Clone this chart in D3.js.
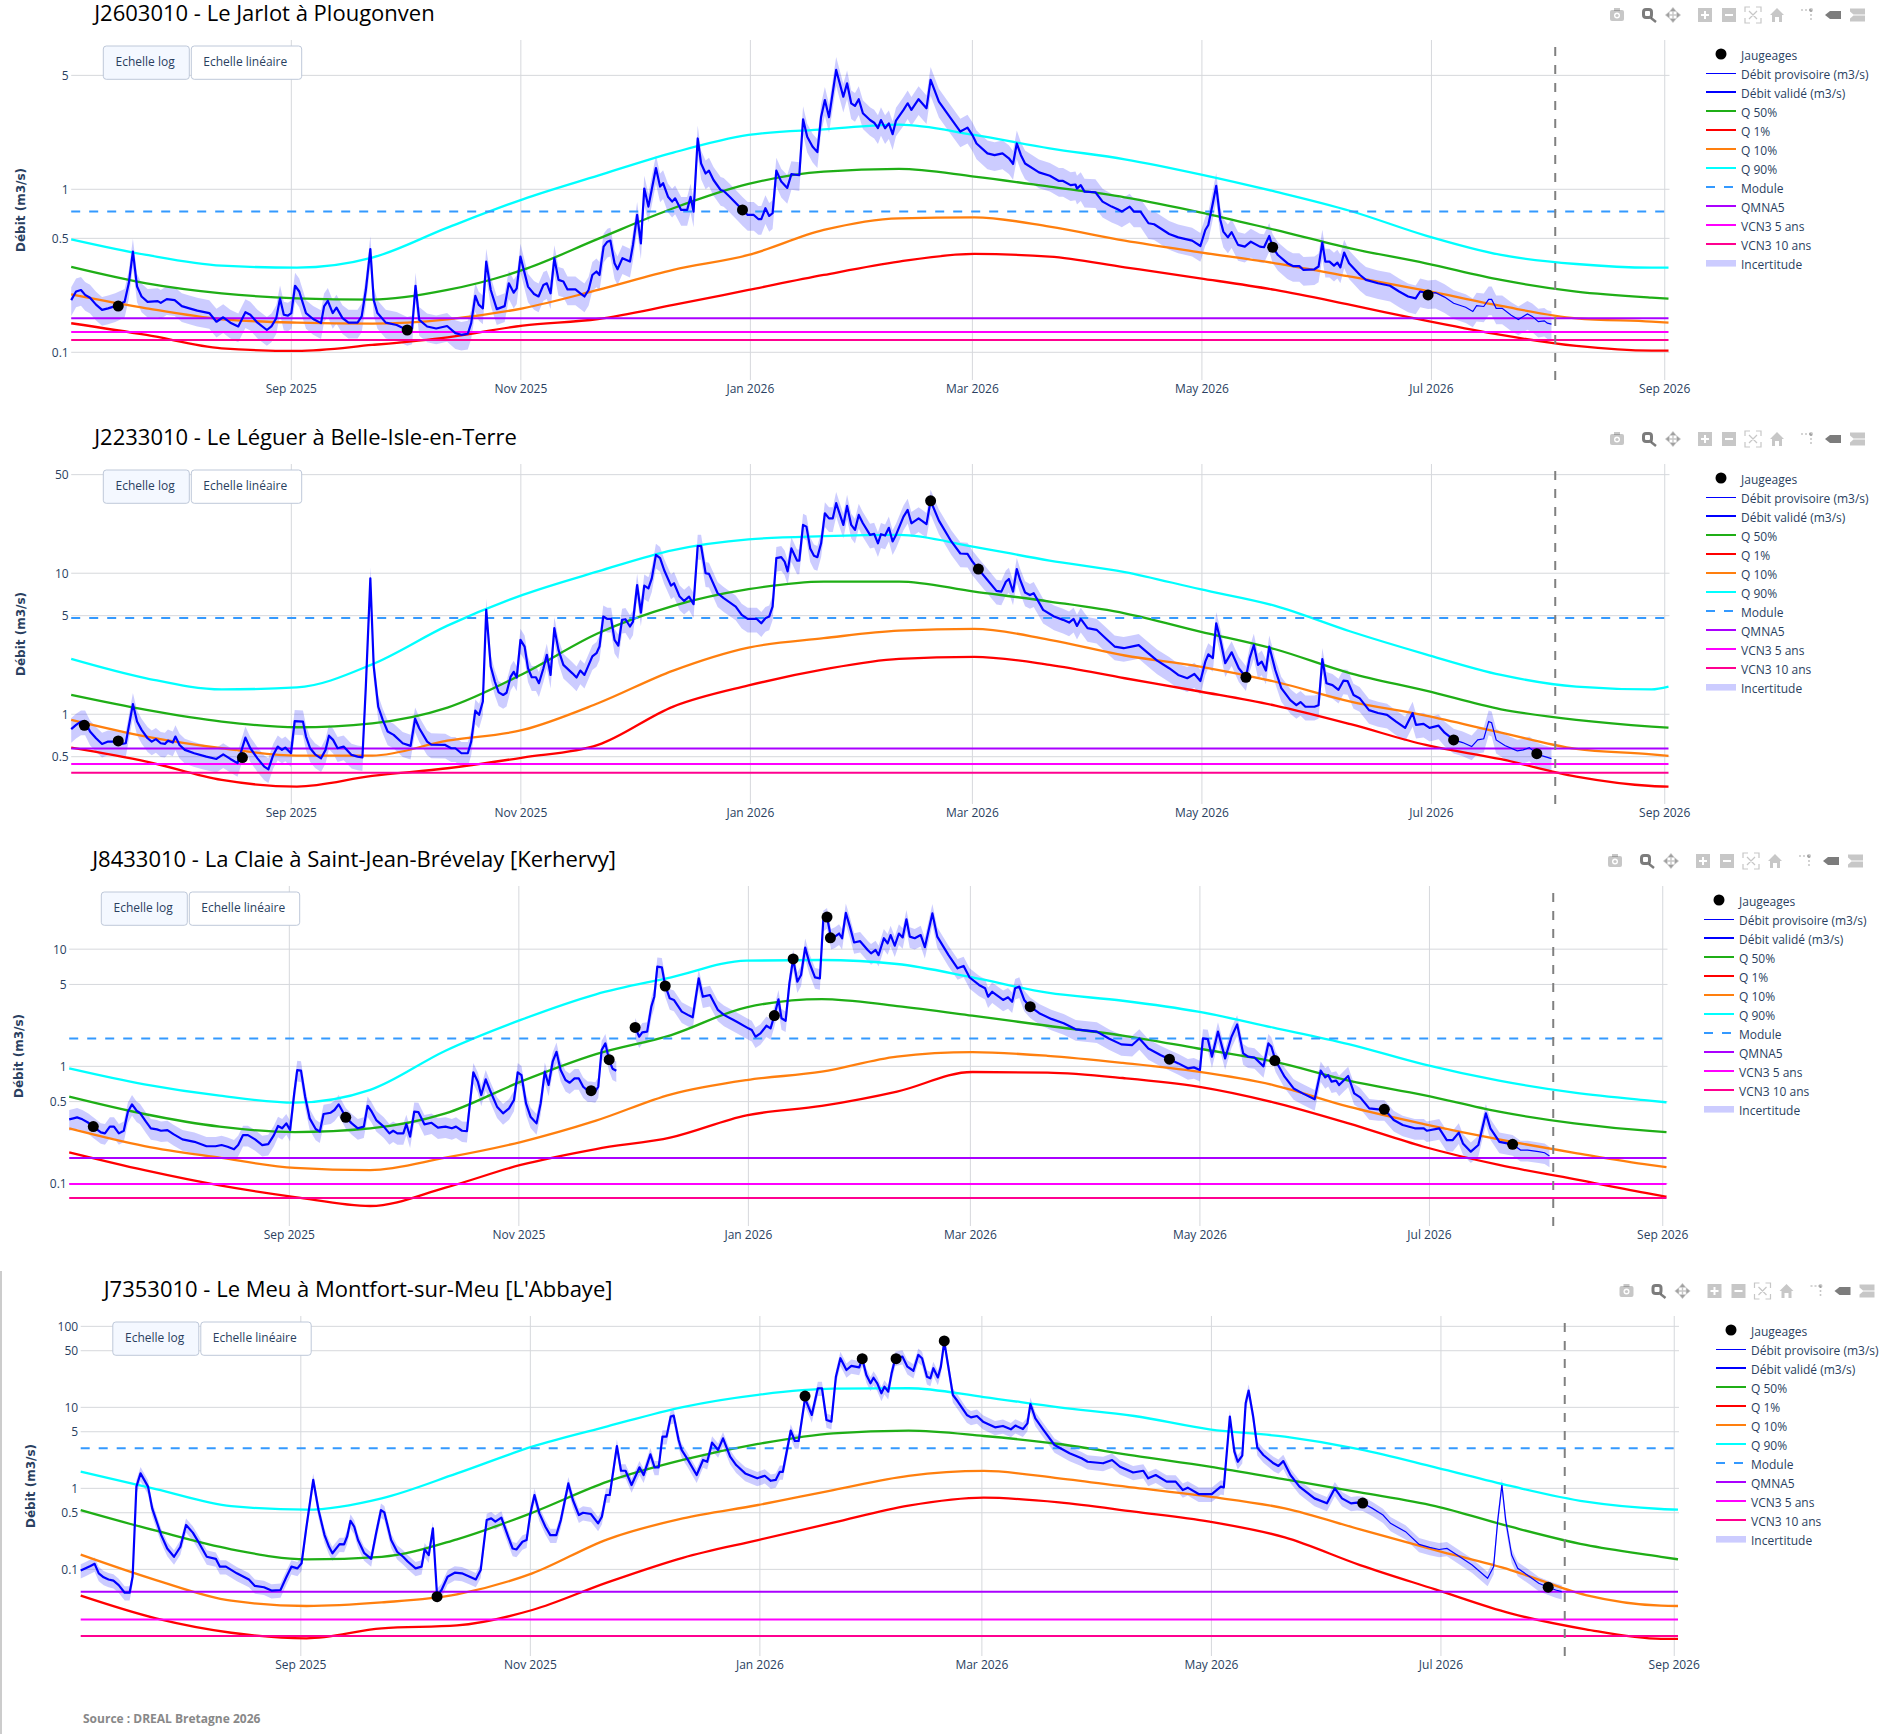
<!DOCTYPE html>
<html><head><meta charset="utf-8">
<script src="https://cdn.jsdelivr.net/npm/d3@7"></script>
<style>html,body{margin:0;padding:0;background:#fff}svg{display:block}text{font-family:"Open Sans",sans-serif}</style>
</head><body>
<script>
// Day offsets are counted from 2025-07-04 12:00 UTC.
const startDate = Date.UTC(2025, 6, 4, 12);
const endDay = 424.5;
const todayDay = 394.4;
const xTickDates = ["2025-09-01","2025-11-01","2026-01-01","2026-03-01","2026-05-01","2026-07-01","2026-09-01"];
const xTickLabels = ["Sep 2025","Nov 2025","Jan 2026","Mar 2026","May 2026","Jul 2026","Sep 2026"];
const legendNames = ["Jaugeages","Débit provisoire (m3/s)","Débit validé (m3/s)","Q 50%","Q 1%","Q 10%","Q 90%","Module","QMNA5","VCN3 5 ans","VCN3 10 ans","Incertitude"];
const buttonLabels = ["Echelle log","Echelle linéaire"];
const sourceText = "Source : DREAL Bretagne 2026";
const uncertaintyLow = 0.8, uncertaintyHigh = 1.2;
const qDays = [0,20,40,60,80,100,120,140,160,180,200,220,240,260,280,300,320,340,360,380,400,420,424.5];

// --- J2603010
const title1 = "J2603010 - Le Jarlot à Plougonven";
const yTicks1 = [0.1,0.5,1,5];
const refs1 = {module:0.73, qmna5:0.1617, vcn5:0.1333, vcn10:0.119};
const q90_1 = [.493,.3955,.340,.3307,.381,.582,.868,1.213,1.678,2.154,2.334,2.49,2.154,1.784,1.528,1.236,.968,.736,.52,.3955,.348,.3307,.3307];
const q50_1 = [.334,.265,.23,.2144,.2104,.2412,.32,.496,.7646,1.078,1.283,1.333,1.196,1.038,.893,.7227,.563,.4347,.3516,.2778,.2356,.2165,.2135];
const q10_1 = [.2269,.1862,.1594,.152,.15,.1594,.1862,.2412,.32,.3955,.563,.664,.673,.59,.484,.4107,.3516,.2912,.239,.1924,.1616,.1542,.152];
const q1_1 = [.1507,.1277,.1058,.102,.1109,.1236,.1457,.16,.1952,.2412,.298,.36,.401,.3863,.332,.2844,.2412,.1952,.1564,.1277,.1094,.1024,.1024];
const gaugings1 = [[12.5,.192],[89.3,.137],[178.4,.747],[319.3,.441],[360.6,.225]];
const validEnd1 = 360.6;
const flow1 = [[0,.209],[1.3,.236],[2.6,.241],[3.7,.225],[5,.216],[6.6,.196],[8.2,.182],[9.8,.186],[11.7,.192],[14.2,.204],[15.3,.265],[16.4,.415],[17.5,.253],[18.7,.22],[20.3,.204],[23,.206],[23.8,.201],[25.4,.212],[27.5,.209],[29.4,.192],[31.4,.186],[33.5,.18],[36.7,.174],[38.6,.154],[40.4,.164],[42.3,.152],[44.4,.144],[46.3,.176],[47.6,.17],[49.5,.152],[52,.137],[53.2,.144],[54.5,.162],[55.5,.214],[56.5,.17],[57.6,.168],[58.5,.174],[59.5,.256],[60.6,.236],[62.4,.174],[64.3,.16],[66.4,.151],[67.2,.191],[68.2,.207],[69.5,.174],[70.5,.188],[72.1,.162],[73.7,.152],[76.1,.152],[77.2,.166],[78.3,.241],[79.5,.429],[80.4,.209],[81.4,.174],[83.6,.152],[86.5,.147],[89.3,.137],[90.6,.14],[91.5,.256],[92.5,.158],[94.6,.144],[97,.14],[99.9,.145],[102.1,.131],[103.7,.128],[105.4,.13],[106.3,.151],[107.4,.222],[108.3,.196],[109.4,.186],[110.3,.36],[111.5,.241],[113.1,.184],[115.2,.192],[116.3,.265],[117.6,.232],[118.4,.247],[119.4,.386],[120.5,.306],[121.4,.253],[123,.228],[124.2,.22],[125.5,.259],[126.4,.265],[127.4,.23],[128.4,.378],[129.5,.278],[130.8,.272],[131.9,.243],[134,.243],[135.3,.23],[136.4,.22],[137.5,.241],[138.5,.298],[139.6,.313],[140.4,.298],[141.5,.445],[142.5,.477],[143.3,.484],[144.4,.352],[145.2,.323],[146.5,.378],[148.5,.36],[149.3,.456],[150.4,.696],[151.4,.466],[152.3,1.01],[153.4,.783],[155.4,1.35],[156.5,1.04],[157.3,1.09],[158.6,.9],[159.7,.84],[160.5,.88],[162.1,.747],[163.7,.747],[164.6,.9],[165.4,.73],[166.5,2.05],[167.4,1.44],[168.6,1.25],[169.5,1.3],[170.7,1.14],[172.6,.99],[173.4,.976],[175,.9],[177.4,.79],[178.4,.747],[179.8,.696],[181.4,.696],[182.6,.657],[183.4,.657],[184.5,.765],[185.5,.686],[186.4,.713],[187.4,1.3],[188.7,1.115],[190.3,1.02],[191.4,1.24],[193.5,1.22],[194.5,2.69],[195.6,2.1],[197,1.83],[198.3,1.69],[199.3,2.79],[200.3,3.53],[201.4,2.77],[203.3,5.4],[205.2,3.7],[206.2,4.47],[207.3,3.37],[208.3,3.25],[209.3,3.57],[210.4,2.93],[212.3,2.66],[213.4,2.56],[214.4,2.37],[215.2,2.66],[216.3,2.37],[217.3,2.54],[218.3,2.18],[219.2,2.64],[221.2,3.07],[222.3,3.37],[223.3,3.07],[225.2,3.57],[227.3,3.14],[228.4,4.69],[230.6,3.45],[233.1,2.86],[236.3,2.26],[238.2,2.39],[239.5,2.15],[240.6,1.91],[243.5,1.66],[245.4,1.62],[247.5,1.66],[249.2,1.55],[250.3,1.43],[251.3,1.91],[252.4,1.62],[253.5,1.44],[257.2,1.27],[260.1,1.21],[262.5,1.125],[263.6,1.125],[265.6,1.06],[266.9,1.07],[267.3,1.01],[268.3,1.06],[269.3,.967],[272.2,.959],[274.1,.84],[276.5,.783],[278.1,.754],[279.2,.73],[281.3,.783],[282.4,.73],[284.2,.73],[286.3,.619],[287.8,.61],[291.8,.532],[294.2,.507],[297.9,.484],[300.1,.449],[301.4,.563],[302.2,.604],[303.4,.82],[304.3,1.05],[305.4,.648],[306.2,.55],[307.4,.507],[308.4,.546],[310.1,.456],[311.9,.445],[313.5,.477],[315.9,.445],[317,.441],[318.4,.517],[319.3,.441],[320.7,.395],[323.2,.352],[324.7,.338],[326.4,.338],[327.5,.32],[330.4,.323],[331.5,.336],[332.5,.471],[333.3,.36],[334.4,.36],[335.6,.34],[336.5,.355],[337.3,.332],[338.3,.409],[339.6,.352],[342.5,.298],[344.1,.278],[347.3,.265],[350.5,.256],[352.9,.236],[355.3,.22],[357.3,.214],[358.5,.236],[360.6,.23],[362.6,.232],[365,.218],[367.4,.2],[370.6,.189],[372.5,.178],[373.5,.193],[375.4,.191],[376.7,.211],[377.5,.211],[378.7,.186],[380.3,.186],[382.7,.169],[384.6,.159],[385.9,.166],[387,.172],[388.3,.166],[389.9,.154],[391.5,.156],[392.3,.151],[393.4,.149]];

// --- J2233010
const title2 = "J2233010 - Le Léguer à Belle-Isle-en-Terre";
const yTicks2 = [0.5,1,5,10,50];
const refs2 = {module:4.82, qmna5:0.571, vcn5:0.444, vcn10:0.384};
const q90_2 = [2.47,1.8,1.5,1.55,2.26,4.25,7.02,10.3,14.6,17.4,18.3,18.7,15.4,12.3,10.2,7.7,5.87,3.86,2.66,1.9,1.57,1.5,1.57];
const q50_2 = [1.371,1.073,.887,.809,.863,1.115,1.93,3.75,5.87,7.7,8.73,8.73,7.41,6.3,5.2,3.86,2.89,1.95,1.47,1.085,.912,.818,.804];
const q10_2 = [.912,.694,.574,.509,.509,.65,.774,1.197,2.04,2.97,3.46,3.92,4.03,3.37,2.61,2.18,1.7,1.23,.978,.741,.568,.52,.506];
const q1_2 = [.58,.462,.342,.307,.365,.414,.493,.606,1.133,1.6,2.08,2.47,2.55,2.24,1.8,1.45,1.152,.85,.606,.48,.361,.31,.307];
const gaugings2 = [[3.5,.835],[12.5,.647],[45.5,.493],[228.4,32.6],[241.1,10.7],[312.2,1.83],[367.4,.658],[389.5,.525]];
const validEnd2 = 367.4;
const flow2 = [[0,.784],[1.3,.84],[2.6,.887],[3.7,.887],[5,.754],[6.6,.676],[8.2,.616],[9.8,.64],[11.7,.64],[13.4,.616],[14.5,.623],[15.3,.818],[16.4,1.18],[17.5,.887],[18.7,.775],[20.3,.676],[21.4,.64],[22.5,.666],[23.8,.623],[24.9,.616],[25.7,.65],[27,.63],[27.7,.695],[28.8,.606],[30.2,.559],[32.7,.529],[35.9,.501],[38.6,.482],[40.4,.52],[42.3,.482],[44.2,.45],[46.3,.683],[47.6,.574],[49.5,.487],[51.3,.425],[52.4,.407],[53.7,.515],[54.9,.59],[56,.559],[56.9,.58],[58.4,.529],[59.4,.895],[61.6,.887],[62.4,.695],[63.5,.574],[64.8,.52],[66.4,.487],[67.6,.559],[68.5,.705],[69.6,.658],[70.8,.574],[72.4,.59],[74.5,.515],[76.1,.501],[77.4,.495],[78.3,1.57],[79.5,9.2],[80.4,2.18],[81.6,1.13],[82.8,.912],[84.1,.754],[85.7,.714],[88.1,.623],[90.2,.597],[91.4,.93],[92.5,.796],[94.6,.64],[95.7,.61],[99.4,.606],[101,.574],[102.1,.574],[103.7,.529],[105.4,.529],[106.3,.64],[107.4,1.06],[108.4,.99],[109.4,1.23],[110.3,5.5],[111.5,2.18],[112.6,1.7],[113.6,1.43],[114.8,1.37],[115.7,1.42],[116.8,1.85],[117.6,2],[118.4,1.82],[119.4,3.37],[120.5,3.02],[121.4,2.12],[122.4,1.83],[123.5,1.83],[124.3,1.66],[125.5,2.12],[126.4,2.64],[127.4,1.9],[128.4,4.08],[129.5,2.86],[130.8,2.24],[133.2,1.95],[134.3,1.82],[135.3,2.04],[136.4,1.9],[138.5,2.57],[139.6,2.71],[140.4,3.02],[141.4,4.93],[142.5,4.74],[143.5,4.74],[144.4,3.37],[145.4,3.07],[146.4,4.67],[147.3,4.72],[148.5,4.19],[149.3,4.54],[150.4,8.25],[151.4,5.26],[152.3,8.16],[153.4,7.8],[154.3,9.2],[155.4,13.5],[156.5,12.8],[157.6,10.5],[159.4,8.16],[160.2,8.49],[161.7,6.83],[162.9,6.36],[164.2,6.83],[165.4,6.03],[166.5,15.6],[167.4,15.6],[168.6,10],[169.5,9.9],[171.8,7.21],[173.4,6.65],[176.6,5.8],[178.2,5.07],[179.8,4.74],[182.2,4.74],[183.4,4.42],[184.5,4.8],[185.5,4.93],[186.4,5.8],[187.4,12.8],[188.7,13],[189.6,12.1],[190.4,10.3],[191.4,15],[192.9,12.3],[193.5,12.3],[194.5,22],[195.4,21.4],[196.4,15],[197.4,13.3],[198.3,13],[199.3,16.3],[200.3,26.6],[201.4,24.5],[202.4,24.5],[203.3,31.4],[205.2,22],[206.2,30],[207.3,22],[208.3,20.3],[209.3,25.9],[210.4,22.6],[212.3,18.7],[213.4,19],[214.4,16.3],[215.2,18.9],[216.3,18.5],[217.3,21],[218.3,16.8],[219.2,18.7],[221.2,25.2],[222.3,28.1],[223.3,22.6],[225.2,24.5],[227.3,22.3],[228.4,32.6],[230.6,23.6],[233.9,16.8],[236.3,13.8],[238.2,13.7],[239.5,12.1],[241.1,10.7],[243.5,8.96],[245.9,7.5],[247.2,7.4],[248.4,8.7],[249.2,9.1],[250.3,7.4],[251.3,10.7],[252.2,8.96],[253.5,7.3],[254.8,7],[255.8,7.21],[258.3,5.5],[261.2,4.93],[263.6,4.67],[265.2,4.47],[266.4,4.74],[267.3,4.23],[268.3,4.74],[270.1,4.08],[272.5,3.97],[274.9,3.46],[277.3,3.02],[279.7,2.94],[281.8,3.02],[283.7,3.09],[286.2,2.71],[288.6,2.4],[291.8,2.12],[294.2,1.9],[296.6,1.8],[298.5,1.93],[300.1,1.72],[301.4,2.36],[302.2,2.66],[303.4,2.5],[304.3,4.42],[305.4,3.37],[306.7,2.3],[307.5,2.5],[308.4,2.75],[310.3,2.12],[312.2,1.83],[313.2,2.5],[314.3,3.1],[315.4,2.24],[316.4,2.36],[317.5,2.04],[318.4,3.02],[320,2.06],[321.6,1.53],[324,1.26],[325.6,1.16],[326.7,1.22],[328,1.13],[330.4,1.13],[331.5,1.16],[332.5,2.46],[333.6,1.66],[335.2,1.61],[336.8,1.49],[338.1,1.73],[339.2,1.72],[340.8,1.37],[342.4,1.3],[344.9,1.07],[347.3,1.02],[349.7,.99],[352.1,.887],[354.5,.8],[356.5,1.02],[357.4,.84],[359.4,.855],[361,.8],[363.4,.83],[365,.74],[367.4,.658],[369.8,.63],[372.2,.59],[373.8,.658],[375.4,.67],[376.7,.887],[377.5,.87],[378.7,.658],[381,.6],[384.3,.55],[385.9,.559],[387.5,.58],[389.5,.525],[391,.507],[392.3,.495],[393.4,.485]];

// --- J8433010
const title3 = "J8433010 - La Claie à Saint-Jean-Brévelay [Kerhervy]";
const yTicks3 = [0.1,0.5,1,5,10];
const refs3 = {module:1.73, qmna5:0.165, vcn5:0.099, vcn10:0.0752};
const q90_3 = [.961,.702,.562,.49,.63,1.36,2.49,4.12,5.75,7.98,8.08,7.47,5.75,4.25,3.63,2.93,2.14,1.55,1.04,.755,.596,.509,.493];
const q50_3 = [.551,.392,.306,.275,.296,.397,.74,1.27,1.85,3.19,3.75,3.27,2.71,2.22,1.83,1.42,1.1,.755,.569,.41,.326,.281,.275];
const q10_3 = [.296,.209,.166,.136,.13,.166,.226,.344,.577,.764,.9,1.21,1.32,1.23,1.07,.9,.693,.453,.322,.238,.183,.144,.138];
const q1_3 = [.1845,.13,.0964,.0767,.0643,.0921,.144,.197,.248,.382,.459,.608,.895,.883,.795,.671,.493,.326,.206,.144,.109,.0819,.0772];
const gaugings3 = [[6.4,.306],[73.5,.367],[138.7,.62],[143.5,1.14],[150.4,2.15],[158.4,4.85],[187.4,2.71],[192.4,8.25],[201.4,18.8],[202.3,12.5],[255.4,3.23],[292.4,1.15],[320.4,1.12],[349.5,.43],[383.6,.216]];
const validEnd3 = 383.6;
const flow3 = [[0,.353],[1.1,.36],[2.1,.367],[3.5,.353],[5.1,.33],[6.4,.306],[8.4,.273],[9.5,.268],[10.8,.306],[11.9,.306],[13.2,.268],[14.5,.282],[15.6,.41],[16.7,.474],[17.9,.418],[18.8,.4],[20.4,.337],[21.7,.296],[23.3,.29],[24.4,.282],[26.1,.286],[27.7,.264],[30.1,.238],[33.3,.227],[36.5,.208],[38.9,.208],[40.5,.213],[42.1,.206],[43.8,.196],[44.9,.213],[46.2,.259],[47.5,.259],[49.4,.238],[51.3,.213],[52.9,.217],[54.4,.259],[55.5,.31],[56.6,.296],[57.7,.326],[58.7,.286],[59.8,.588],[60.6,.93],[61.6,.92],[62.7,.551],[63.9,.36],[65.5,.292],[66.6,.277],[67.6,.392],[69.5,.402],[70.5,.424],[71.6,.474],[72.7,.41],[73.5,.367],[75.1,.326],[76.7,.296],[78.3,.306],[79.3,.461],[80.4,.41],[81.6,.348],[83.6,.306],[85.1,.268],[86.1,.282],[87.2,.268],[88.8,.268],[89.6,.322],[90.6,.251],[91.7,.41],[92.8,.407],[94.4,.32],[96.3,.33],[98,.3],[100,.306],[101.7,.296],[102.8,.306],[104.4,.282],[105.7,.28],[106.5,.483],[107.4,.889],[108.6,.74],[109.5,.57],[110.7,.774],[111.8,.628],[113.7,.453],[115.3,.397],[116.9,.438],[118.2,.516],[119.2,.889],[120.2,.84],[121.4,.483],[122.6,.372],[124.2,.326],[125.3,.483],[126.4,.9],[127.4,.693],[128.5,1.1],[129.5,1.33],[130.6,.93],[131.9,.764],[133,.725],[134.3,.79],[135.4,.79],[136.6,.67],[137.8,.62],[138.7,.62],[139.8,.61],[140.6,.67],[141.5,1.38],[142.5,1.57],[143.5,1.13],[144.4,.955],[145.4,.918],[146,null],[150.4,2.15],[151.5,1.79],[152.3,1.95],[153.6,1.98],[154.7,3.23],[155.5,3.93],[156.3,7.09],[157.5,7],[158.4,4.88],[159.6,3.81],[160.7,3.69],[162.8,2.93],[164.4,2.75],[165.7,2.62],[167.3,5.64],[168.4,3.93],[170.3,4.06],[172.4,3.03],[174,2.75],[177.3,2.41],[180.5,2.11],[181.4,2.04],[182.4,1.79],[183.7,1.91],[185.3,2.22],[186.4,2.11],[187.4,2.71],[188.5,3.73],[189.3,2.57],[190.4,2.45],[191.4,5.11],[192.4,8.25],[193.5,5.28],[194.5,6.02],[195.6,10.3],[196.7,7.66],[198.2,5.75],[199.5,5.64],[200.4,17.7],[201.4,18.7],[202.5,12.4],[203.5,12.8],[204.6,13.6],[205.4,12.4],[206.4,20.4],[207.5,15.5],[208.6,11.4],[210.2,11.7],[212.2,9.84],[213.1,9.22],[214.3,9.84],[215.1,8.9],[216.5,12.4],[217.5,11.2],[218.3,13.2],[219.4,10.7],[220.5,13.6],[221.5,12.6],[222.5,18],[223.4,12.8],[224.7,12.4],[226.3,13.2],[227.4,10.4],[229.4,20.2],[230.7,12.8],[233.7,8.9],[236.1,6.86],[237.7,7.19],[239.3,5.73],[241.8,4.95],[243.4,4.64],[244.2,3.93],[245.3,4.33],[248.2,3.69],[249.5,3.88],[250.6,3.56],[251.4,4.64],[252.5,4.79],[253.8,3.69],[255.4,3.23],[257.8,2.84],[261,2.54],[264.3,2.33],[267.5,2.07],[273.1,1.98],[276.3,1.73],[279.6,1.54],[282.5,1.52],[284.4,1.73],[286.8,1.42],[290,1.25],[292.4,1.15],[294.8,1.06],[297.3,.962],[298.9,.98],[300.5,.93],[301.3,1.73],[302.6,1.71],[303.7,1.21],[305.3,1.98],[307.2,1.17],[308.9,1.79],[310.4,2.28],[312,1.29],[313.3,1.21],[315,1.19],[317.4,1],[318.7,1.57],[319.5,1.47],[320.6,1.12],[323,.816],[325.4,.648],[327.8,.588],[331,.523],[332.6,.918],[333.8,.806],[334.6,.84],[335.5,.74],[336.7,.755],[337.5,.693],[339.9,.827],[341.5,.588],[343.1,.544],[345.5,.438],[347.9,.43],[349.5,.43],[352,.348],[354.4,.316],[357.6,.296],[360,.296],[360.8,.282],[364.1,.296],[366.1,.235],[367.7,.235],[369.3,.272],[370.4,.22],[372.5,.187],[374.5,.213],[376.5,.397],[377.7,.296],[380.1,.227],[382.2,.22],[383.6,.216],[385.7,.193],[387.6,.193],[390.5,.187],[392.1,.183],[393.4,.172]];

// --- J7353010
const title4 = "J7353010 - Le Meu à Montfort-sur-Meu [L'Abbaye]";
const yTicks4 = [0.1,0.5,1,5,10,50,100];
const refs4 = {module:3.12, qmna5:0.053, vcn5:0.0241, vcn10:0.015};
const q90_4 = [1.61,.981,.605,.545,.753,1.53,3.27,5.83,10.1,14.3,17,17.2,13.4,10,7.82,5.35,4.34,3.03,1.82,1.07,.685,.556,.545];
const q50_4 = [.54,.3,.177,.133,.143,.235,.5,1.21,2.24,3.53,4.78,5.15,4.43,3.53,2.53,1.85,1.29,.893,.605,.336,.2,.143,.133];
const q10_4 = [.152,.0738,.041,.0353,.0391,.0491,.0893,.235,.426,.623,.954,1.43,1.64,1.33,1.02,.789,.567,.312,.173,.0981,.0482,.0356,.0353];
const q1_4 = [.0473,.0248,.0165,.0141,.0187,.0203,.0315,.0691,.139,.23,.377,.611,.767,.672,.515,.388,.248,.113,.0566,.0286,.0182,.0139,.0139];
const gaugings4 = [[94.7,.046],[192.5,13.8],[207.7,39.9],[216.7,39.9],[229.5,66],[340.7,.659],[390,.0602]];
const validEnd4 = 340.7;
const flow4 = [[0,.0965],[1.3,.103],[2.6,.11],[3.7,.117],[4.8,.0893],[6.1,.0797],[7.4,.075],[8.7,.0725],[10.1,.064],[11.7,.0515],[13,.0515],[13.8,.0812],[14.8,1.05],[15.9,1.53],[17.9,1.05],[19,.566],[21.4,.265],[23,.181],[24.8,.143],[26.5,.19],[28,.353],[29.8,.284],[31,.23],[33.5,.143],[35.9,.135],[37,.108],[38.6,.108],[41.5,.0893],[44.7,.075],[46.3,.0625],[48.7,.0602],[50.7,.0547],[53.1,.0556],[54.7,.0812],[56,.108],[57.6,.103],[58.7,.119],[60,.336],[61.8,1.27],[63.2,.54],[64.8,.265],[66,.19],[66.9,.158],[68.8,.205],[70,.204],[70.8,.253],[71.7,.398],[72.7,.336],[73.7,.23],[75.3,.16],[77.2,.135],[78.5,.278],[79.8,.54],[80.7,.505],[82.5,.23],[84.1,.165],[85.7,.143],[86.9,.125],[89,.103],[90.6,.108],[91.4,.176],[92.5,.15],[93.6,.32],[94.7,.048],[95.9,.0556],[97.5,.0812],[99.4,.091],[101.3,.0893],[103.4,.0812],[105,.075],[106.3,.098],[107.9,.406],[109.1,.426],[110.2,.388],[111.8,.435],[113.6,.253],[114.8,.181],[115.8,.176],[117.4,.219],[118.5,.23],[119.5,.491],[120.6,.828],[121.9,.491],[123.5,.336],[124.8,.265],[126.4,.265],[127.6,.406],[129.6,1.15],[130.8,.718],[132.4,.468],[133.5,.5],[135.6,.482],[137.5,.37],[138.5,.447],[139.6,.828],[140.6,.828],[142.5,3.33],[143.6,1.65],[144.8,1.65],[146.4,1.1],[148.5,1.82],[149.6,1.46],[151.4,2.63],[152.5,1.82],[153.6,1.82],[154.6,4.35],[155.7,4.35],[156.8,7.68],[157.6,7.9],[158.9,3.95],[159.7,2.98],[161.3,2.28],[163.7,1.46],[165.4,2.24],[166.5,2.13],[167.8,3.67],[169.4,2.98],[170.7,4.14],[172.6,2.46],[174.2,1.94],[176.6,1.53],[179.8,1.33],[181.8,1.43],[183.4,1.24],[184.7,1.27],[185.8,1.6],[186.6,1.6],[188.7,5.15],[189.8,3.84],[190.8,3.84],[192.5,12.9],[194.3,8.05],[195.9,17.2],[197,17.2],[198.2,6.98],[199.5,6.66],[200.7,23.9],[201.9,40.4],[203.5,28.9],[204.8,32.5],[206.9,31.1],[207.7,39.9],[208.8,25.1],[209.9,19.8],[210.7,23.2],[211.7,19.8],[212.8,14.9],[213.6,18],[214.6,15.6],[215.5,26.3],[216.5,40.4],[218.4,42.3],[219.7,31.8],[221.3,28.3],[222.6,44.4],[223.6,40.4],[224.9,23.9],[225.8,22.8],[226.6,30.4],[227.8,23.4],[228.6,31.8],[229.5,64.8],[231.8,14.2],[233.1,11.8],[235.5,8.06],[236.6,7.51],[238.2,7.82],[239.8,6.66],[243,5.67],[245.1,5.89],[247.2,5.35],[248.4,5.96],[250.4,5.39],[251.6,6.35],[252.4,11],[253.7,7.32],[255.9,5.25],[258.8,3.43],[262.8,2.71],[266,2.35],[267.6,2.13],[271.7,2.04],[274.1,2.24],[276.2,1.85],[279.7,1.57],[282.4,1.65],[283.7,1.33],[285.7,1.46],[288.6,1.21],[291,1.21],[292.9,.954],[294.2,1.02],[297.1,.851],[300.6,.851],[303,1.05],[303.8,1.03],[305.4,7.68],[306.6,2.84],[307.5,2.13],[308.7,2.53],[309.6,11.2],[310.4,16.1],[311.6,7.68],[312.7,3.18],[314.3,2.58],[317,2.04],[318.3,1.89],[319.6,2.17],[321.5,1.46],[323.9,1.05],[327.9,.752],[331.2,.653],[333.3,1],[335.2,.752],[337.6,.653],[339.2,.665],[340.7,.659],[343.3,.566],[346.1,.468],[348.1,.37],[352.1,.292],[355.7,.203],[358.5,.187],[361,.176],[363.1,.181],[365.8,.15],[369.8,.113],[373.9,.0775],[375.5,.108],[376.6,.406],[377.7,1.1],[378.7,.406],[380.3,.15],[381.9,.103],[385.1,.0812],[387.5,.0672],[390,.0602],[392,.0556],[393.6,.0531]];

// Layout and styles (separate from data)
const W = 1887, H = 1734, plotW = 1597.3, plotH = 340;
const C = {text:"#2a3f5f", grid:"#d6d8dc", blue:"#0000ff", band:"rgba(0,0,255,0.2)", q50:"#1fae16", q1:"#ff0000", q10:"#ff7f0e", q90:"#00ffff", module:"#3399ff", qmna5:"#aa00ff", vcn5:"#ff00ff", vcn10:"#ff0090", today:"#808080"};
const panels = [
 {left:71.2, top:40, domain:[.0676,8.24], title:title1, ticks:yTicks1, refs:refs1, q90:q90_1, q50:q50_1, q10:q10_1, q1:q1_1, gaug:gaugings1, flow:flow1, validEnd:validEnd1},
 {left:71.2, top:464, domain:[.231,59.5], title:title2, ticks:yTicks2, refs:refs2, q90:q90_2, q50:q50_2, q10:q10_2, q1:q1_2, gaug:gaugings2, flow:flow2, validEnd:validEnd2},
 {left:69.2, top:886, domain:[.0434,34.6], title:title3, ticks:yTicks3, refs:refs3, q90:q90_3, q50:q50_3, q10:q10_3, q1:q1_3, gaug:gaugings3, flow:flow3, validEnd:validEnd3},
 {left:80.7, top:1316, domain:[.00852,134.2], title:title4, ticks:yTicks4, refs:refs4, q90:q90_4, q50:q50_4, q10:q10_4, q1:q1_4, gaug:gaugings4, flow:flow4, validEnd:validEnd4}
];
const dayToDate = d => new Date(startDate + d * 86400000);
const svg = d3.select("body").append("svg").attr("width", W).attr("height", H).attr("viewBox", `0 0 ${W} ${H}`);
svg.append("rect").attr("width", W).attr("height", H).attr("fill", "#fff");

function modebar(g, dx, dy) {
  const c = "rgba(68,68,68,0.3)", on = "rgba(68,68,68,0.7)";
  const m = g.append("g").attr("transform", `translate(${dx},${dy})`);
  // camera
  m.append("rect").attr("x",1610).attr("y",10).attr("width",14).attr("height",11).attr("rx",2).attr("fill",c);
  m.append("rect").attr("x",1614).attr("y",8).attr("width",6).attr("height",3).attr("fill",c);
  m.append("circle").attr("cx",1617).attr("cy",15.5).attr("r",3).attr("fill","#fff");
  m.append("circle").attr("cx",1617).attr("cy",15.5).attr("r",1.6).attr("fill",c);
  // zoom
  m.append("rect").attr("x",1643.5).attr("y",9.5).attr("width",8).attr("height",8).attr("rx",2.5).attr("fill","none").attr("stroke",on).attr("stroke-width",3);
  m.append("line").attr("x1",1651).attr("y1",18).attr("x2",1656).attr("y2",22).attr("stroke",on).attr("stroke-width",2.5);
  // pan
  m.append("path").attr("d","M1666 15H1680M1673 8V22M1666 15l3-2.5v5zM1680 15l-3-2.5v5zM1673 8l-2.5 3h5zM1673 22l-2.5-3h5z").attr("stroke",c).attr("stroke-width",1.4).attr("fill",c);
  // plus / minus
  m.append("rect").attr("x",1698).attr("y",8).attr("width",14).attr("height",14).attr("fill",c);
  m.append("path").attr("d","M1701 15H1709M1705 11V19").attr("stroke","#fff").attr("stroke-width",2);
  m.append("rect").attr("x",1722).attr("y",8).attr("width",14).attr("height",14).attr("fill",c);
  m.append("path").attr("d","M1725 15H1733").attr("stroke","#fff").attr("stroke-width",2);
  // autoscale
  m.append("path").attr("d","M1745 12V7H1750M1756 7H1761V12M1761 18V23H1756M1750 23H1745V18M1749 11L1757 19M1757 11L1749 19").attr("stroke",c).attr("stroke-width",1.2).attr("fill","none");
  // home
  m.append("path").attr("d","M1770 15L1777 8L1784 15H1782V22H1779V17H1775V22H1772V15Z").attr("fill",c);
  // spikes
  m.append("path").attr("d","M1801 10H1811M1811 10V21").attr("stroke",c).attr("stroke-width",1.6).attr("stroke-dasharray","2,2").attr("fill","none");
  m.append("circle").attr("cx",1811).attr("cy",10).attr("r",2).attr("fill",c);
  // closest
  m.append("path").attr("d","M1825 15L1830 11H1841V19H1830Z").attr("fill",on);
  // compare
  m.append("path").attr("d","M1850 8.5H1865V14.5H1853.5L1850 11.5ZM1853.5 15.5H1865V21.5H1850V18.5Z").attr("fill",c);
}

panels.forEach(p => {
  const g = svg.append("g");
  const dx = p.left - 71.2, dy = p.top - 40;
  const right = p.left + plotW, bottom = p.top + plotH;
  const x = d3.scaleUtc().domain([dayToDate(0), dayToDate(endDay)]).range([p.left, right]);
  const y = d3.scaleLog().domain(p.domain).range([bottom, p.top]);
  const xTicks = xTickDates.map(s => new Date(s + "T00:00:00Z"));

  // grid
  g.append("g").selectAll("line").data(xTicks).join("line")
    .attr("x1", d => x(d)).attr("x2", d => x(d)).attr("y1", p.top).attr("y2", bottom)
    .attr("stroke", C.grid).attr("stroke-width", 1);
  g.append("g").selectAll("line").data(p.ticks).join("line")
    .attr("x1", p.left).attr("x2", right + 1).attr("y1", d => y(d)).attr("y2", d => y(d))
    .attr("stroke", C.grid).attr("stroke-width", 1);

  // axis labels
  g.append("g").selectAll("text").data(xTicks).join("text")
    .attr("x", d => x(d)).attr("y", bottom + 8.5).attr("text-anchor", "middle").attr("dominant-baseline", "central")
    .attr("font-size", 12).attr("fill", C.text).text((d, i) => xTickLabels[i]);
  g.append("g").selectAll("text").data(p.ticks).join("text")
    .attr("x", p.left - 2.5).attr("y", d => y(d)).attr("text-anchor", "end").attr("dominant-baseline", "central")
    .attr("font-size", 12).attr("fill", C.text).text(d => String(d));
  g.append("text").attr("transform", `translate(${p.left - 50},${p.top + plotH / 2}) rotate(-90)`)
    .attr("text-anchor", "middle").attr("dominant-baseline", "central")
    .style("font-family", '"DejaVu Sans",sans-serif').style("font-weight", "bold")
    .attr("font-size", 12).attr("fill", C.text).text("Débit (m3/s)");

  // uncertainty band
  const band = d3.area().defined(d => d[1] != null).x(d => x(dayToDate(d[0])))
    .y0(d => y(d[1] * uncertaintyLow)).y1(d => y(d[1] * uncertaintyHigh));
  g.append("path").attr("d", band(p.flow)).attr("fill", C.band);

  // seasonal quantiles
  const qLine = d3.line().x((d, i) => x(dayToDate(qDays[i]))).y(d => y(d)).curve(d3.curveMonotoneX);
  [[p.q50, C.q50], [p.q1, C.q1], [p.q10, C.q10], [p.q90, C.q90]].forEach(([vals, col]) => {
    g.append("path").attr("d", qLine(vals)).attr("fill", "none").attr("stroke", col).attr("stroke-width", 2.3);
  });

  // reference levels
  const hLine = (v, col, dash) => {
    const l = g.append("line").attr("x1", x(dayToDate(0))).attr("x2", x(dayToDate(endDay)))
      .attr("y1", y(v)).attr("y2", y(v)).attr("stroke", col).attr("stroke-width", 2);
    if (dash) l.attr("stroke-dasharray", dash);
  };
  hLine(p.refs.module, C.module, "9,9");
  hLine(p.refs.qmna5, C.qmna5);
  hLine(p.refs.vcn5, C.vcn5);
  hLine(p.refs.vcn10, C.vcn10);

  // flow
  const fLine = d3.line().defined(d => d[1] != null).x(d => x(dayToDate(d[0]))).y(d => y(d[1]));
  g.append("path").attr("d", fLine(p.flow.filter(d => d[0] <= p.validEnd))).attr("fill", "none").attr("stroke", C.blue).attr("stroke-width", 2.2).attr("stroke-linejoin", "round");
  g.append("path").attr("d", fLine(p.flow.filter(d => d[0] >= p.validEnd))).attr("fill", "none").attr("stroke", C.blue).attr("stroke-width", 1.2);

  // gaugings
  g.append("g").selectAll("circle").data(p.gaug).join("circle")
    .attr("cx", d => x(dayToDate(d[0]))).attr("cy", d => y(d[1])).attr("r", 5.5).attr("fill", "#000");

  // today marker
  g.append("line").attr("x1", x(dayToDate(todayDay))).attr("x2", x(dayToDate(todayDay)))
    .attr("y1", p.top + 7).attr("y2", bottom).attr("stroke", C.today).attr("stroke-width", 2).attr("stroke-dasharray", "9,9");

  // title
  g.append("text").attr("x", p.left + 23).attr("y", p.top - 28.5).attr("dominant-baseline", "central")
    .attr("font-size", 22).attr("fill", "#000").text(p.title);

  // buttons
  const btn = [[103.3, 86, "#f4f8ff"], [191.3, 110.4, "#ffffff"]];
  btn.forEach(([bx, bw, fill], i) => {
    g.append("rect").attr("x", bx + dx).attr("y", 46 + dy).attr("width", bw).attr("height", 33.3).attr("rx", 3)
      .attr("fill", fill).attr("stroke", "#bec8d9").attr("stroke-width", 1);
    g.append("text").attr("x", bx + dx + bw / 2 - 1.2).attr("y", 61.3 + dy).attr("text-anchor", "middle").attr("dominant-baseline", "central")
      .attr("font-size", 12).attr("fill", C.text).text(buttonLabels[i]);
  });

  // legend
  const styles = [null, [C.blue, 1], [C.blue, 2], [C.q50, 2], [C.q1, 2], [C.q10, 2], [C.q90, 2], [C.module, 2, "9,9"], [C.qmna5, 2], [C.vcn5, 2], [C.vcn10, 2], "band"];
  const lg = g.append("g").attr("transform", `translate(${Math.round(dx)},${dy})`);
  legendNames.forEach((name, i) => {
    const ly = 54 + 19 * i + (i > 6 ? 0.3 : 0), st = styles[i];
    if (st === null) lg.append("circle").attr("cx", 1721).attr("cy", ly).attr("r", 5.5).attr("fill", "#000");
    else if (st === "band") lg.append("rect").attr("x", 1706).attr("y", ly - 3.3).attr("width", 30).attr("height", 6.6).attr("fill", C.band);
    else {
      const ry = Math.round(ly) + (st[1] === 1 ? 0.5 : 0);
      const l = lg.append("line").attr("x1", 1706).attr("x2", 1736).attr("y1", ry).attr("y2", ry).attr("stroke", st[0]).attr("stroke-width", st[1]);
      if (st[2]) l.attr("stroke-dasharray", st[2]);
    }
    lg.append("text").attr("x", 1741).attr("y", ly + 1).attr("dominant-baseline", "central").attr("font-size", 12).attr("fill", C.text).text(name);
  });

  modebar(g, dx, dy);
});

svg.append("line").attr("x1", 1).attr("x2", 1).attr("y1", 1271).attr("y2", H).attr("stroke", "#ccc").attr("stroke-width", 2);
svg.append("text").attr("x", 83).attr("y", 1718.5).attr("dominant-baseline", "central").attr("font-size", 12).attr("font-weight", "bold").attr("fill", "#888").text(sourceText);
</script>
</body></html>
